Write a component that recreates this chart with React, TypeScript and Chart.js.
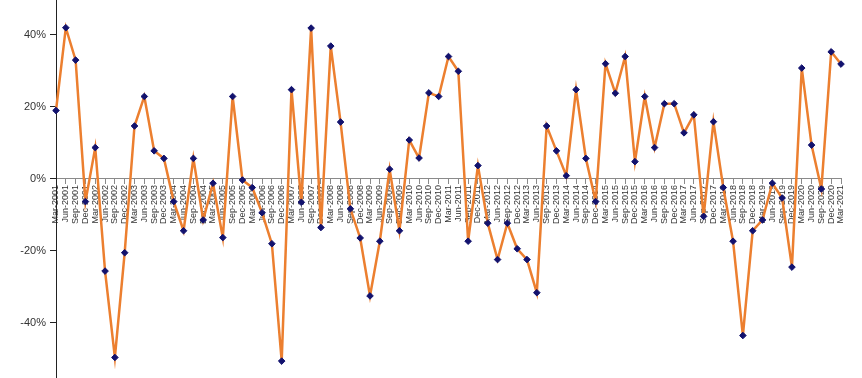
import React, { useEffect, useRef } from "react";
import { Chart, registerables } from "chart.js";

Chart.register(...registerables);

const categories: string[] = [
  "Mar-2001", "Jun-2001", "Sep-2001", "Dec-2001",
  "Mar-2002", "Jun-2002", "Sep-2002", "Dec-2002",
  "Mar-2003", "Jun-2003", "Sep-2003", "Dec-2003",
  "Mar-2004", "Jun-2004", "Sep-2004", "Dec-2004",
  "Mar-2005", "Jun-2005", "Sep-2005", "Dec-2005",
  "Mar-2006", "Jun-2006", "Sep-2006", "Dec-2006",
  "Mar-2007", "Jun-2007", "Sep-2007", "Dec-2007",
  "Mar-2008", "Jun-2008", "Sep-2008", "Dec-2008",
  "Mar-2009", "Jun-2009", "Sep-2009", "Dec-2009",
  "Mar-2010", "Jun-2010", "Sep-2010", "Dec-2010",
  "Mar-2011", "Jun-2011", "Sep-2011", "Dec-2011",
  "Mar-2012", "Jun-2012", "Sep-2012", "Dec-2012",
  "Mar-2013", "Jun-2013", "Sep-2013", "Dec-2013",
  "Mar-2014", "Jun-2014", "Sep-2014", "Dec-2014",
  "Mar-2015", "Jun-2015", "Sep-2015", "Dec-2015",
  "Mar-2016", "Jun-2016", "Sep-2016", "Dec-2016",
  "Mar-2017", "Jun-2017", "Sep-2017", "Dec-2017",
  "Mar-2018", "Jun-2018", "Sep-2018", "Dec-2018",
  "Mar-2019", "Jun-2019", "Sep-2019", "Dec-2019",
  "Mar-2020", "Jun-2020", "Sep-2020", "Dec-2020",
  "Mar-2021",
];

const seriesValues: number[] = [
  0.19, 0.42, 0.33, -0.063,
  0.087, -0.256, -0.496, -0.205,
  0.147, 0.229, 0.078, 0.057,
  -0.063, -0.144, 0.057, -0.114,
  -0.012, -0.163, 0.229, -0.003,
  -0.024, -0.094, -0.18, -0.506,
  0.248, -0.065, 0.419, -0.135,
  0.369, 0.158, -0.083, -0.164,
  -0.325, -0.173, 0.027, -0.144,
  0.108, 0.058, 0.239, 0.229,
  0.34, 0.299, -0.173, 0.037,
  -0.123, -0.224, -0.123, -0.194,
  -0.224, -0.316, 0.147, 0.078,
  0.009, 0.248, 0.057, -0.063,
  0.32, 0.238, 0.34, 0.048,
  0.229, 0.087, 0.209, 0.209,
  0.128, 0.178, -0.104, 0.159,
  -0.024, -0.173, -0.435, -0.144,
  -0.114, -0.012, -0.053, -0.245,
  0.308, 0.094, -0.028, 0.353,
  0.319,
];

const yTickValues: number[] = [-0.4, -0.2, 0, 0.2, 0.4];

export default function App() {
  const canvasRef = useRef<HTMLCanvasElement | null>(null);

  useEffect(() => {
    if (!canvasRef.current) return;
    const chart = new Chart(canvasRef.current, {
      type: "line",
      data: {
        labels: categories,
        datasets: [
          {
            data: seriesValues,
            borderColor: "#EC7F2F",
            borderWidth: 2.5,
            backgroundColor: "#12126e",
            pointStyle: "rectRot",
            pointRadius: 3.3,
            pointBackgroundColor: "#12126e",
            pointBorderColor: "#12126e",
            pointBorderWidth: 1,
            tension: 0,
            fill: false,
          },
        ],
      },
      options: {
        animation: false,
        responsive: false,
        layout: { autoPadding: false, padding: { left: 0, right: 21, top: 0, bottom: 0 } },
        plugins: {
          legend: { display: false },
          tooltip: { enabled: false },
        },
        scales: {
          x: {
            type: "category",
            offset: false,
            position: { y: 0 } as any,
            grid: {
              display: true,
              drawOnChartArea: false,
              drawTicks: true,
              tickLength: 5,
              color: "#8a8a8a",
            },
            border: { display: true, color: "#8a8a8a", width: 1 },
            ticks: {
              autoSkip: false,
              maxRotation: 90,
              minRotation: 90,
              padding: 1,
              color: "#333",
              font: { family: "'Liberation Sans', Arial, sans-serif", size: 9 },
            },
            afterFit: (scale: any) => {
              scale.paddingLeft = 0;
              scale.paddingRight = 0;
            },
          },
          y: {
            type: "linear",
            min: -0.553,
            max: 0.497,
            grid: {
              display: true,
              drawOnChartArea: false,
              drawTicks: true,
              tickLength: 6,
              color: "#222",
            },
            border: { display: true, color: "#222", width: 1 },
            ticks: {
              padding: 4,
              color: "#333",
              font: { family: "'Liberation Sans', Arial, sans-serif", size: 11 },
              callback: (v: any) => Math.round(Number(v) * 100) + "%",
            },
            afterBuildTicks: (scale: any) => {
              scale.ticks = yTickValues.map((v) => ({ value: v }));
            },
            afterFit: (scale: any) => {
              scale.width = 56;
              scale.paddingTop = 0;
              scale.paddingBottom = 0;
            },
          },
        },
      },
    });
    return () => chart.destroy();
  }, []);

  return (
    <div style={{ position: "absolute", left: 0, top: 0, width: 862, height: 378, background: "#fff" }}>
      <canvas ref={canvasRef} width={862} height={378} />
    </div>
  );
}
